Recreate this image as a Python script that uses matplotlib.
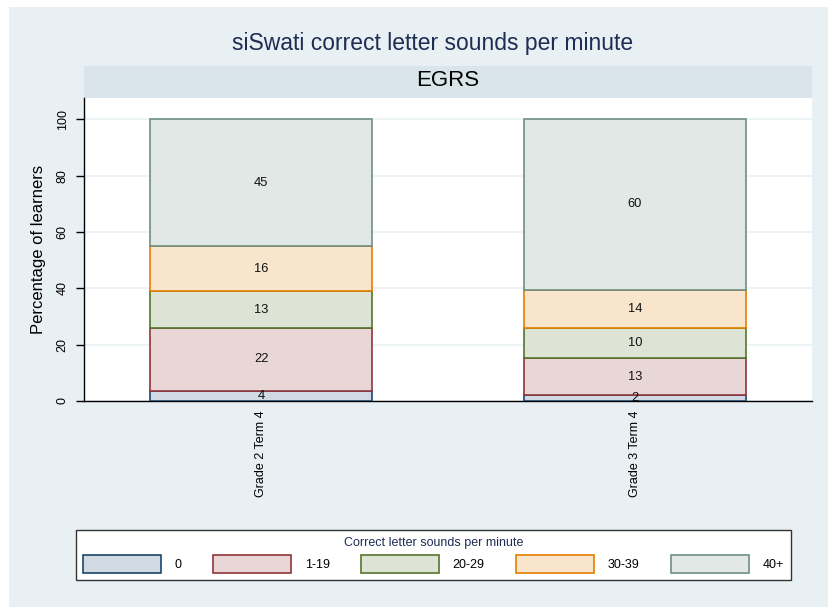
import matplotlib
matplotlib.use("Agg")
import matplotlib.pyplot as plt
from matplotlib.patches import Patch, Rectangle

plt.rcParams['font.family'] = ['Liberation Sans', 'DejaVu Sans']

# data (labels show rounded values)
groups = ["Grade 2 Term 4", "Grade 3 Term 4"]
bands = ["0", "1-19", "20-29", "30-39", "40+"]
grade2 = [3.7, 22.2, 13.1, 16.1, 44.9]
grade3 = [2.0, 13.4, 10.4, 13.8, 60.4]
yticks = [0, 20, 40, 60, 80, 100]

edge_cols = ["#1a476f", "#90353b", "#55752f", "#e37e00", "#6e8e84"]
fill_cols = ["#d1dae2", "#e9d7d8", "#dde3d5", "#f9e5cc", "#e2e8e6"]

W, H = 829, 607
fig = plt.figure(figsize=(W / 100, H / 100), dpi=100, facecolor="white")

def fx(px):
    return px / W

def fy(py):
    return 1 - py / H

# light background region with small white margin
fig.add_artist(Rectangle((fx(9), 0), 1 - fx(9), fy(7), transform=fig.transFigure,
                         facecolor="#e8f0f3", edgecolor="none", zorder=-10))
# strip for "EGRS"
fig.add_artist(Rectangle((fx(84), fy(97.5)), fx(812) - fx(84), fy(66.5) - fy(97.5),
                         transform=fig.transFigure, facecolor="#d9e5eb",
                         edgecolor="none", zorder=-5))
fig.text(fx(448), fy(86), "EGRS", ha="center", va="baseline", fontsize=16, color="black")
fig.text(fx(433), fy(50), "siSwati correct letter sounds per minute", ha="center",
         va="baseline", fontsize=16.5, color="#1e2d53")

ax = fig.add_axes([fx(84), fy(401), fx(812) - fx(84), fy(97.5) - fy(401)])
ax.set_facecolor("white")

data = [grade2, grade3]
x = list(range(len(groups)))
bottoms = [0.0] * len(groups)
for j, band in enumerate(bands):
    vals = [d[j] for d in data]
    ax.bar(x, vals, width=0.594, bottom=bottoms, color=fill_cols[j],
           edgecolor=edge_cols[j], linewidth=1.2, zorder=3)
    for i, v in enumerate(vals):
        ax.text(x[i], bottoms[i] + v / 2, f"{v:.0f}", ha="center", va="center",
                fontsize=9.3, color="#111111", zorder=4)
    bottoms = [b + v for b, v in zip(bottoms, vals)]

ax.set_xlim(-0.474, 1.474)
ax.set_ylim(0, 107.8)
ax.set_yticks(yticks)
ax.set_yticklabels([str(t) for t in yticks], rotation=90, va="center", fontsize=9)
ax.set_xticks(x)
ax.set_xticklabels(groups, rotation=90, va="top", fontsize=9)
ax.tick_params(axis="x", length=0, pad=7)
ax.tick_params(axis="y", length=6, width=1, pad=5)
ax.yaxis.grid(True, color="#eaf2f3", linewidth=1.2, zorder=0)
ax.set_axisbelow(True)
for s in ["top", "right"]:
    ax.spines[s].set_visible(False)
ax.spines["left"].set_linewidth(1)
ax.spines["bottom"].set_linewidth(1)
ax.set_ylabel("Percentage of learners", fontsize=12, labelpad=8)

handles = [Patch(facecolor=fill_cols[j], edgecolor=edge_cols[j], linewidth=1.2)
           for j in range(len(bands))]
leg = fig.legend(handles, bands, ncol=5, loc="center",
                 bbox_to_anchor=(fx(433.5), fy(555)), bbox_transform=fig.transFigure,
                 fontsize=9, title="Correct letter sounds per minute",
                 title_fontsize=9, handlelength=6.24, handleheight=1.75,
                 handletextpad=1.1, columnspacing=2.5, borderpad=0.55,
                 fancybox=False, frameon=True, framealpha=1, facecolor="white")
leg.get_frame().set_edgecolor("#333333")
leg.get_frame().set_linewidth(1.0)
leg.get_title().set_color("#1e2d53")

fig.savefig("out.png", dpi=100, facecolor=fig.get_facecolor())
